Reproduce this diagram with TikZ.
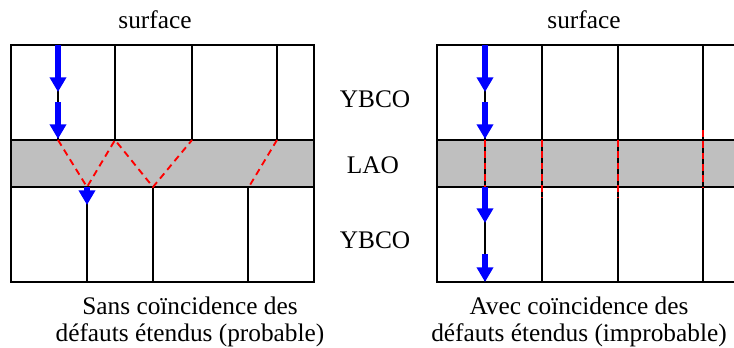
\documentclass[tikz,border=0pt]{standalone}
\usepackage{fontspec}
\setmainfont{Liberation Serif}
\usetikzlibrary{arrows.meta}

\tikzset{
  grain/.style={black, line width=1.5pt},
  defect/.style={red, line width=1.4pt, dash pattern=on 5pt off 3.5pt},
  current/.style={blue, line width=4.5pt, -{Triangle[width=12pt,length=11pt]}},
  lbl/.style={font=\fontsize{19}{20}\selectfont, inner sep=0pt},
}

\begin{document}
\begin{tikzpicture}[x=0.75pt,y=-0.75pt]
\useasboundingbox (0,0) rectangle (734,347);
% left panel
\fill[black!25] (11,140) rectangle (314,187);
\draw[grain] (11,45) rectangle (314,282);
\draw[grain] (11,140) -- (314,140);
\draw[grain] (11,187) -- (314,187);
\draw[grain] (58,45) -- (58,140);
\draw[grain] (115,45) -- (115,140);
\draw[grain] (192,45) -- (192,140);
\draw[grain] (277,45) -- (277,140);
\draw[grain] (87,187) -- (87,282);
\draw[grain] (153,187) -- (153,282);
\draw[grain] (248,187) -- (248,282);
\draw[defect] (58,140) -- (87,187) -- (115,140) -- (153,187) -- (192,140);
\draw[defect] (277,140) -- (250,185);
\draw[current] (58,45) -- (58,92);
\draw[current] (58,102) -- (58,139);
\draw[current] (87,187) -- (87,205);
% right panel
\fill[black!25] (437,140) rectangle (734,187);
\draw[grain] (734,45) -- (437,45) -- (437,282) -- (734,282);
\draw[grain] (437,140) -- (734,140);
\draw[grain] (437,187) -- (734,187);
\draw[grain] (485,45) -- (485,282);
\draw[grain] (542,45) -- (542,282);
\draw[grain] (618,45) -- (618,282);
\draw[grain] (703,45) -- (703,282);
\draw[defect] (485,140) -- (485,187);
\draw[defect] (542,140) -- (542,197);
\draw[defect] (618,140) -- (618,197);
\draw[defect] (703,130) -- (703,187);
\draw[current] (485,45) -- (485,92);
\draw[current] (485,102) -- (485,139);
\draw[current] (485,187) -- (485,223);
\draw[current] (485,254) -- (485,282);
% labels
\node[lbl, anchor=base] (surfL) at (155,28) {surface};
\node[lbl, anchor=base] (surfR) at (584,28) {surface};
\node[lbl, anchor=base] (ybcoT) at (375,107) {YBCO};
\node[lbl, anchor=base] (lao) at (373,173) {LAO};
\node[lbl, anchor=base] (ybcoB) at (375,248) {YBCO};
\node[lbl, anchor=north, align=center] (capL) at (190,297) {Sans coïncidence des\\défauts étendus (probable)};
\node[lbl, anchor=north, align=center] (capR) at (579,297) {Avec coïncidence des\\défauts étendus (improbable)};
\end{tikzpicture}
\end{document}
